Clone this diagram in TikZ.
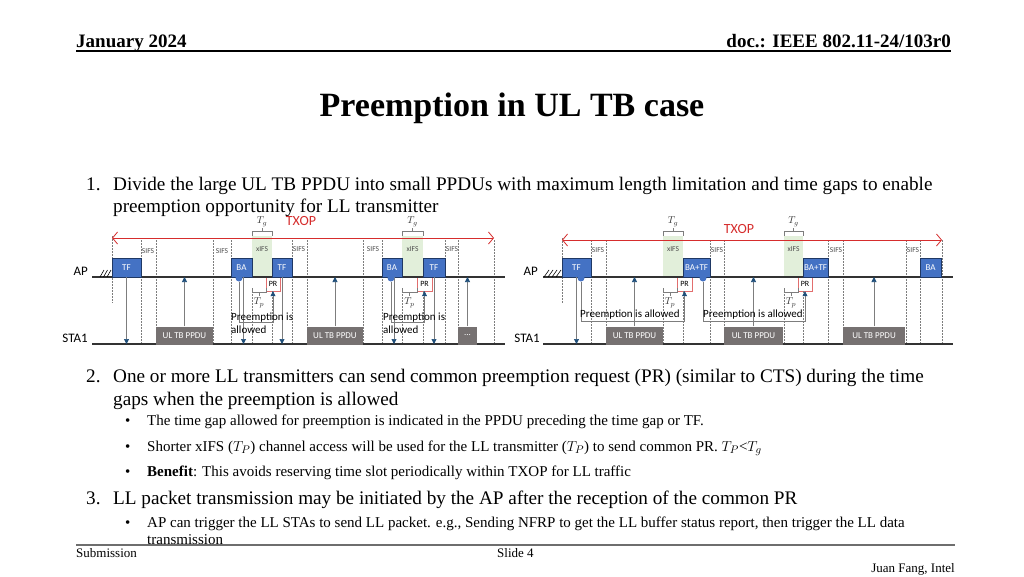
\documentclass[tikz,border=0pt]{standalone}
\usepackage{fontspec}
\setmainfont{Liberation Serif}
\newfontfamily\diagfont{Carlito}
\usepackage{xcolor}
\usepackage{tikz}
\usetikzlibrary{arrows.meta, calc}
\definecolor{boxblue}{RGB}{68, 114, 196}
\definecolor{boxnavy}{RGB}{31, 56, 100}
\definecolor{ppdugray}{RGB}{118, 113, 113}
\definecolor{gapgreen}{RGB}{226, 239, 218}
\definecolor{txopred}{RGB}{214, 45, 45}
\definecolor{prred}{RGB}{226, 110, 110}
\definecolor{guidegray}{RGB}{125, 125, 125}
\definecolor{tipblue}{RGB}{31, 78, 121}
\definecolor{footgray}{RGB}{110, 110, 110}

\begin{document}
\begin{tikzpicture}[
    x=1pt, y=-1pt,
    slidetext/.style={anchor=base west, inner sep=0pt},
    itemtext/.style={slidetext, font=\fontsize{19.2}{23}\selectfont},
    bullettext/.style={slidetext, font=\fontsize{15}{18}\selectfont},
    foottext/.style={slidetext, font=\fontsize{13}{15}\selectfont},
    apbox/.style={draw=boxnavy, fill=boxblue, text=white, line width=0.9pt,
                  minimum height=19pt, inner sep=0pt,
                  font=\diagfont\fontsize{9}{10}\selectfont},
    ppdu/.style={fill=ppdugray, text=white, minimum height=18pt, inner sep=0pt,
                 font=\diagfont\fontsize{9}{10}\selectfont},
    gapbox/.style={fill=gapgreen, minimum height=41pt, inner sep=0pt},
    prbox/.style={draw=prred, fill=white, minimum height=14pt, inner sep=0pt,
                  font=\diagfont\fontsize{8}{9}\selectfont},
    smalllbl/.style={inner sep=0pt, text=black!70, font=\diagfont\fontsize{7.5}{8}\selectfont},
    mathlbl/.style={inner sep=0pt, text=black!80, font=\fontsize{10}{11}\selectfont},
    sidelbl/.style={anchor=east, inner sep=0pt, font=\diagfont\fontsize{13}{15}\selectfont},
    note/.style={anchor=base west, inner sep=0pt, font=\diagfont\fontsize{11}{13}\selectfont},
    guide/.style={draw=guidegray, dash pattern=on 1.5pt off 1.5pt, line width=0.5pt},
    timeline/.style={draw=black!80, line width=1.2pt},
    bracket/.style={draw=guidegray, line width=0.6pt},
    arrow/.style={-{Triangle[length=5pt, width=5pt, color=tipblue]}, draw=guidegray, line width=0.6pt},
    txop/.style={{Straight Barb[length=5pt, width=12pt]}-{Straight Barb[length=5pt, width=12pt]},
                 draw=txopred, line width=0.8pt},
    txoplbl/.style={inner sep=0pt, text=txopred, font=\diagfont\fontsize{14}{16}\selectfont},
    txdot/.style={circle, fill=boxblue, inner sep=0pt, minimum size=7pt}
]
    \fill[white] (0,0) rectangle (1024,576);
    \useasboundingbox (0,0) rectangle (1024,576);

    % header and title
    \draw[line width=1.3pt] (76,51) -- (951,51);
    \node[slidetext, font=\bfseries\fontsize{19}{22}\selectfont] (date) at (76,47) {January 2024};
    \node[slidetext, anchor=base east, font=\bfseries\fontsize{19}{22}\selectfont] (docid) at (951,47) {doc.: IEEE 802.11-24/103r0};
    \node[inner sep=0pt, anchor=base, font=\bfseries\fontsize{34}{40}\selectfont] (title) at (512,116) {Preemption in UL TB case};

    % item 1
    \node[itemtext] (num1) at (86,190) {1.};
    \node[itemtext] (item1a) at (113,190) {Divide the large UL TB PPDU into small PPDUs with maximum length limitation and time gaps to enable};
    \node[itemtext] (item1b) at (113,212) {preemption opportunity for LL transmitter};

    % green gaps with PR, T_g and T_p
    \foreach \ga/\gb/\pa/\pb in {252/272/266/280, 402/423/417/432, 663/683/677/692, 784/803/798/812} {
        \node[gapbox, minimum width={\gb-\ga}] (gap\ga) at ({(\ga+\gb)/2},256.5) {};
        \node[smalllbl] (xifs\ga) at ({(\ga+\gb)/2},249) {xIFS};
        \draw[bracket] (\ga,236) -- (\ga,231) -- (\gb,231) -- (\gb,236)
                       ({(\ga+\gb)/2},231) -- ({(\ga+\gb)/2},228);
        \node[mathlbl] (tg\ga) at ({(\ga+\gb)/2},222) {$T_g$};
        \node[prbox, minimum width={\pb-\pa}] (pr\ga) at ({(\pa+\pb)/2},284) {PR};
        \draw[bracket] (\ga,288) -- (\ga,292) -- (\pa,292) -- (\pa,288)
                       ({(\ga+\pa)/2},292) -- ({(\ga+\pa)/2},296);
        \node[mathlbl] (tp\ga) at ({(\ga+\pa)/2},303) {$T_p$};
    }

    % left diagram
    \coordinate (apL) at (92,277);
    \coordinate (staL) at (92,344);
    \foreach \gx in {141,156,213,231,292,307,363,382,445,458,494}
        \draw[guide] (\gx,240) -- (\gx,344);
    \foreach \gx in {252,272,402,423}
        \draw[guide] (\gx,291) -- (\gx,344);
    \draw[guide] (112,236) -- (112,303);
    \draw[timeline] (apL) -- (505,277);
    \draw[timeline] (staL) -- (505,344);
    \foreach \hx in {100,103.5,107}
        \draw[line width=0.6pt] (\hx,277) -- (\hx+4,270);
    \node[sidelbl] (apLlbl) at (88,271) {AP};
    \node[sidelbl] (staLlbl) at (88,338) {STA1};

    \node[apbox, minimum width=29pt] (tfL1) at (126.5,267.5) {TF};
    \node[ppdu, minimum width=57pt] (ppduL1) at (184.5,335.5) {UL TB PPDU};
    \node[apbox, minimum width=21pt] (baL1) at (241.5,267.5) {BA};
    \node[apbox, minimum width=20pt] (tfL2) at (282,267.5) {TF};
    \node[ppdu, minimum width=56pt] (ppduL2) at (335,335.5) {UL TB PPDU};
    \node[apbox, minimum width=20pt] (baL2) at (392,267.5) {BA};
    \node[apbox, minimum width=22pt] (tfL3) at (434,267.5) {TF};
    \node[ppdu, minimum width=19pt] (moreL) at (467.5,335.5) {...};
    \foreach \sx/\sy in {148/251, 222/251, 299/249, 373/249, 452/249}
        \node[smalllbl] (sifs\sx) at (\sx,\sy) {SIFS};

    \draw[arrow] (tfL1) -- (tfL1 |- staL);
    \draw[arrow] ([xshift=2pt]baL1.south) -- ([xshift=2pt]baL1.south |- staL);
    \draw[arrow] (tfL2) -- (tfL2 |- staL);
    \draw[arrow] ([xshift=2pt]baL2.south) -- ([xshift=2pt]baL2.south |- staL);
    \draw[arrow] (tfL3) -- (tfL3 |- staL);
    \draw[arrow] (ppduL1) -- (ppduL1 |- apL);
    \draw[arrow] (ppduL2) -- (ppduL2 |- apL);
    \draw[arrow] (moreL) -- (moreL |- apL);

    \node[txdot] (dotL1) at (239,278) {};
    \node[txdot] (dotL2) at (391,278) {};
    \draw[arrow] (dotL1) |- ($(pr252.south)+(0,31)$) -- (pr252.south);
    \draw[arrow] (dotL2) |- ($(pr402.south)+(0,31)$) -- (pr402.south);
    \node[note] (noteL1a) at (231,320) {Preemption is};
    \node[note] (noteL1b) at (231,333) {allowed};
    \node[note] (noteL2a) at (383,320) {Preemption is};
    \node[note] (noteL2b) at (383,333) {allowed};

    \coordinate (txopLs) at (112,238);
    \coordinate (txopLe) at (494,238);
    \draw[txop] (txopLs) -- (txopLe);
    \node[txoplbl] (txopL) at (301,221) {TXOP};

    % right diagram
    \coordinate (apR) at (543,277);
    \coordinate (staR) at (543,344);
    \foreach \gx in {591,606,710,724,828,843,906,920,942}
        \draw[guide] (\gx,240) -- (\gx,344);
    \foreach \gx in {663,683,784,803}
        \draw[guide] (\gx,291) -- (\gx,344);
    \draw[guide] (562,238) -- (562,303);
    \draw[timeline] (apR) -- (953,277);
    \draw[timeline] (staR) -- (953,344);
    \foreach \hx in {544,548,552,556}
        \draw[line width=0.6pt] (\hx,277) -- (\hx+5,270);
    \node[sidelbl] (apRlbl) at (538,271) {AP};
    \node[sidelbl] (staRlbl) at (540,338) {STA1};

    \node[apbox, minimum width=29pt] (tfR1) at (576.5,267.5) {TF};
    \node[ppdu, minimum width=57pt] (ppduR1) at (634.5,335.5) {UL TB PPDU};
    \node[apbox, minimum width=27pt] (batfR1) at (696.5,267.5) {BA+TF};
    \node[ppdu, minimum width=59pt] (ppduR2) at (753.5,335.5) {UL TB PPDU};
    \node[apbox, minimum width=25pt] (batfR2) at (815.5,267.5) {BA+TF};
    \node[ppdu, minimum width=62pt] (ppduR3) at (874,335.5) {UL TB PPDU};
    \node[apbox, minimum width=21pt] (baR3) at (930.5,267.5) {BA};
    \foreach \sx in {598,717,836,913}
        \node[smalllbl] (sifs\sx) at (\sx,250) {SIFS};

    \draw[arrow] (tfR1) -- (tfR1 |- staR);
    \draw[arrow] (ppduR1) -- (ppduR1 |- apR);
    \draw[arrow] (ppduR2) -- (ppduR2 |- apR);
    \draw[arrow] (ppduR3) -- (ppduR3 |- apR);

    \node[txdot] (dotR1) at (581,278) {};
    \node[txdot] (dotR2) at (703,278) {};
    \draw[arrow] (dotR1) |- ($(pr663.south)+(0,30)$) -- (pr663.south);
    \draw[arrow] (dotR2) |- ($(pr784.south)+(0,30)$) -- (pr784.south);
    \node[note] (noteR1) at (580,317) {Preemption is allowed};
    \node[note] (noteR2) at (703,317) {Preemption is allowed};

    \coordinate (txopRs) at (562,240);
    \coordinate (txopRe) at (942,240);
    \draw[txop] (txopRs) -- (txopRe);
    \node[txoplbl] (txopR) at (739,229) {TXOP};

    % items 2 and 3
    \node[itemtext] (num2) at (86,382) {2.};
    \node[itemtext] (item2a) at (113,382) {One or more LL transmitters can send common preemption request (PR) (similar to CTS) during the time};
    \node[itemtext] (item2b) at (113,405) {gaps when the preemption is allowed};
    \node[bullettext] (bul1) at (125,425) {•};
    \node[bullettext] (sub1) at (147,425) {The time gap allowed for preemption is indicated in the PPDU preceding the time gap or TF.};
    \node[bullettext] (bul2) at (125,451) {•};
    \node[bullettext] (sub2) at (147,451) {Shorter xIFS ($T_P$) channel access will be used for the LL transmitter ($T_P$) to send common PR. $T_P$<$T_g$};
    \node[bullettext] (bul3) at (125,476) {•};
    \node[bullettext] (sub3) at (147,476) {\textbf{Benefit}: This avoids reserving time slot periodically within TXOP for LL traffic};
    \node[itemtext] (num3) at (86,504) {3.};
    \node[itemtext] (item3) at (113,504) {LL packet transmission may be initiated by the AP after the reception of the common PR};
    \node[bullettext] (bul4) at (125,527) {•};
    \node[bullettext] (sub4a) at (147,527) {AP can trigger the LL STAs to send LL packet. e.g., Sending NFRP to get the LL buffer status report, then trigger the LL data};
    \node[bullettext] (sub4b) at (147,544) {transmission};

    % footer
    \draw[footgray, line width=1.3pt] (76,545) -- (955,545);
    \node[foottext] (subm) at (76,557) {Submission};
    \node[foottext] (slideno) at (497,557) {Slide 4};
    \node[foottext, anchor=base east] (author) at (955,572) {Juan Fang, Intel};
\end{tikzpicture}
\end{document}
